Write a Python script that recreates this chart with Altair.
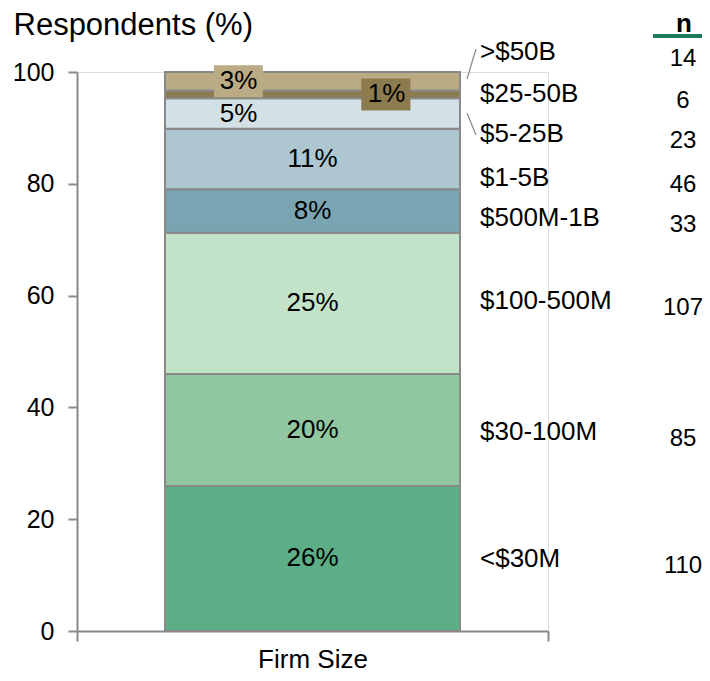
import altair as alt
import pandas as pd

# ---- data ----
categories = ["<$30M", "$30-100M", "$100-500M", "$500M-1B", "$1-5B", "$5-25B", "$25-50B", ">$50B"]
n_values = [110, 85, 107, 33, 46, 23, 6, 14]
colors = ["#5BAE86", "#90C6A0", "#C3E3C8", "#79A5B3", "#ADC6CF", "#D3E0E5", "#8C7B4F", "#BBAB85"]

# ---- layout (annotation positions in axis units) ----
label_pos = [12.9, 35.6, 59.0, 73.9, 81.0, 88.9, 96.1, 103.6]

FONT = "Liberation Sans"
GRAY = "#898989"

df = pd.DataFrame({
    "cat": categories,
    "n": n_values,
    "idx": list(range(len(categories))),
    "label_pos": label_pos,
    "group": ["Firm Size"] * len(categories),
})

base = alt.Chart(df).transform_joinaggregate(
    total="sum(n)"
).transform_calculate(
    pct="100 * datum.n / datum.total"
)

x_enc = alt.X(
    "group:N",
    scale=alt.Scale(paddingInner=0, paddingOuter=0),
    axis=alt.Axis(
        title=None, tickBand="extent", tickSize=10, tickColor=GRAY, tickWidth=2,
        domainColor=GRAY, domainWidth=2, labelFont=FONT, labelFontSize=26,
        labelColor="#000000", labelAngle=0, labelPadding=26, labelBaseline="alphabetic",
    ),
)

y_scale = alt.Scale(domain=[0, 100], nice=False)
color_scale = alt.Scale(domain=categories, range=colors)

bars = base.mark_bar(size=295, stroke=GRAY, strokeWidth=2).encode(
    x=x_enc,
    y=alt.Y(
        "pct:Q", stack="zero", scale=y_scale,
        axis=alt.Axis(
            values=[0, 20, 40, 60, 80, 100], grid=False, tickSize=9, tickColor=GRAY,
            tickWidth=2, domainColor=GRAY, domainWidth=2, labelFont=FONT,
            labelFontSize=25, labelColor="#000000", labelPadding=14,
            title="Respondents (%)", titleAngle=0, titleAlign="left",
            titleBaseline="alphabetic", titleX=-64, titleY=-38, titleFont=FONT,
            titleFontSize=31, titleFontWeight="normal", titleColor="#000000",
        ),
    ),
    color=alt.Color("cat:N", scale=color_scale, legend=None),
    order=alt.Order("idx:Q", sort="ascending"),
)

mid = base.transform_window(
    cum="sum(pct)", sort=[alt.SortField("idx", order="ascending")], frame=[None, 0]
).transform_calculate(
    mid="datum.cum - datum.pct / 2",
    lab="format(datum.pct, '.0f') + '%'",
)

# label boxes behind the labels of the two thin top segments
box_shape_left = "M-6.16,-1H-3.1V1H-6.16Z"
box_shape_right = "M3.05,-1H6.12V1H3.05Z"

def box(cat, shape):
    return mid.transform_filter(alt.datum.cat == cat).mark_point(
        shape=shape, size=1024, filled=True, opacity=1, strokeWidth=0
    ).encode(
        x="group:N", y=alt.Y("mid:Q", scale=y_scale),
        color=alt.Color("cat:N", scale=color_scale, legend=None),
    )

box_top = box(">$50B", box_shape_left)
box_mid = box("$25-50B", box_shape_right)

def pct_text(filter_expr, dx):
    return mid.transform_filter(filter_expr).mark_text(
        font=FONT, fontSize=26, color="#000000", dx=dx, baseline="middle"
    ).encode(x="group:N", y=alt.Y("mid:Q", scale=y_scale), text="lab:N")

t_center = pct_text(alt.FieldOneOfPredicate(field="cat", oneOf=categories[:5]), 0)
t_left = pct_text(alt.FieldOneOfPredicate(field="cat", oneOf=["$5-25B", ">$50B"]), -74)
t_right = pct_text(alt.FieldEqualPredicate(field="cat", equal="$25-50B"), 74)

cat_labels = base.mark_text(
    font=FONT, fontSize=26, color="#000000", align="left", baseline="middle"
).encode(
    x=alt.value(403), y=alt.Y("label_pos:Q", scale=y_scale), text="cat:N"
)

n_labels = base.mark_text(
    font=FONT, fontSize=24, color="#000000", align="center", baseline="middle", dy=7
).encode(
    x=alt.value(606), y=alt.Y("label_pos:Q", scale=y_scale), text="n:Q"
)

n_header = alt.Chart(pd.DataFrame({"t": ["n"]})).mark_text(
    font=FONT, fontSize=26, fontWeight="bold", color="#000000", align="center", baseline="middle"
).encode(x=alt.value(607), y=alt.value(-48), text="t:N")

underline = alt.Chart(pd.DataFrame({"t": [0]})).mark_rule(
    color="#1B7A5A", strokeWidth=4
).encode(x=alt.value(576), x2=alt.value(630), y=alt.value(-36))

leader1 = alt.Chart(pd.DataFrame({"t": [0]})).mark_rule(color=GRAY, strokeWidth=1.2).encode(
    x=alt.value(390), x2=alt.value(399), y=alt.value(7), y2=alt.value(-23)
)
leader2 = alt.Chart(pd.DataFrame({"t": [0]})).mark_rule(color=GRAY, strokeWidth=1.2).encode(
    x=alt.value(390), x2=alt.value(399), y=alt.value(41), y2=alt.value(63)
)

chart = alt.layer(
    bars, box_top, box_mid, t_center, t_left, t_right, cat_labels, n_labels,
    n_header, underline, leader1, leader2
).properties(
    width=471, height=559,
    autosize=alt.AutoSizeParams(type="none"),
    padding={"left": 69, "top": 64, "right": 154, "bottom": 42},
).configure_view(stroke="transparent").configure(background="#ffffff")

chart.save("out.html", embed_options={"renderer": "svg", "actions": False})
